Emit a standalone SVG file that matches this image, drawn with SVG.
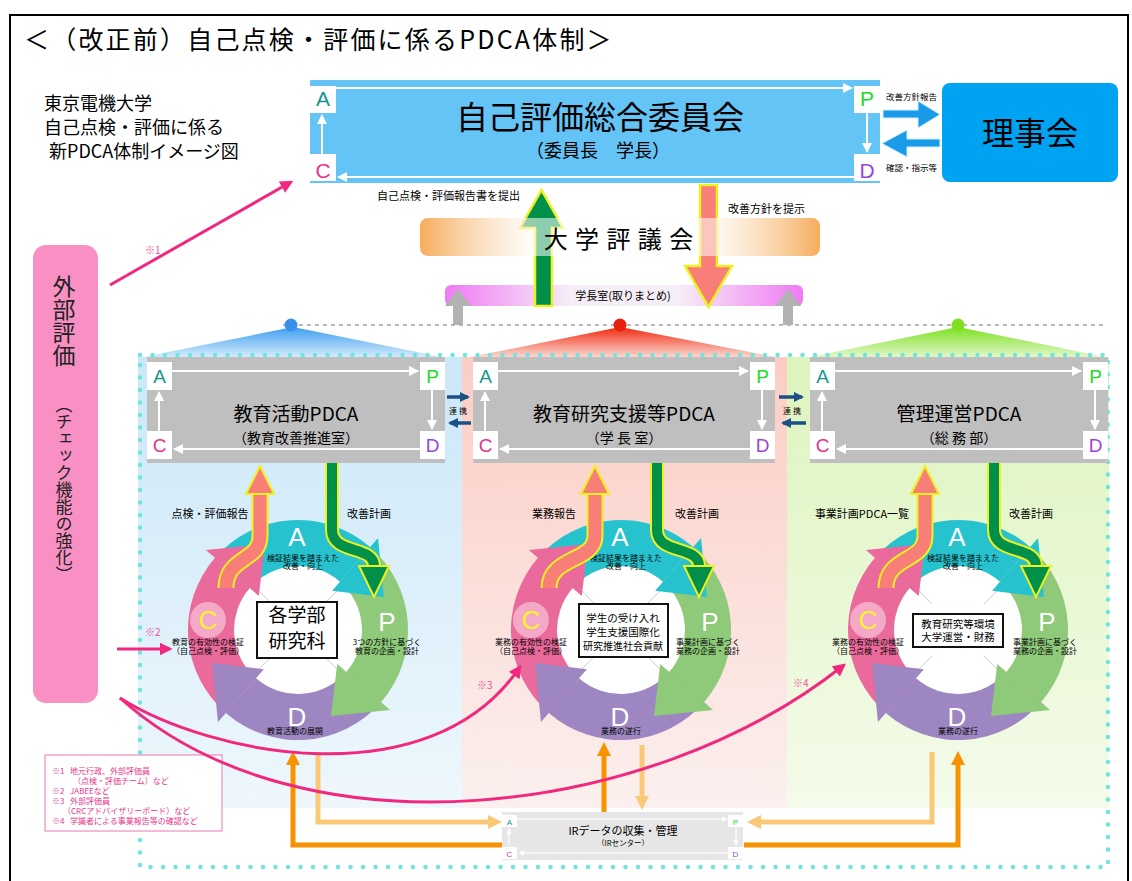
<svg xmlns="http://www.w3.org/2000/svg" width="1132" height="881" viewBox="0 0 1132 881">
<style>
text{font-family:"Noto Sans CJK JP","Noto Sans",sans-serif}
.lt{font-family:"Liberation Sans",Arial,sans-serif}
.c{text-anchor:middle}
.wa{stroke:#fff;stroke-width:2;fill:none;marker-end:url(#mW)}
.wa1{stroke:#fff;stroke-width:1.2;fill:none;marker-end:url(#mWs)}
.box{fill:#bfbfbf}
.cw{fill:#fff}
.LA{fill:#12968e}.LP{fill:#22dd22}.LC{fill:#e8308a}.LD{fill:#9a44e0}
.pk{fill:none;stroke:#f0297f;stroke-width:3;marker-end:url(#mPk)}
.pkt{fill:#f0509a;font-size:10px}
.nv{stroke:#1b4f86;stroke-width:3.5;fill:none;marker-end:url(#mNv)}
.ybo{fill:none;stroke:#eef020}
.od{fill:none;stroke:#f79200;stroke-width:5}
.ol{fill:none;stroke:#fac978;stroke-width:5}
.lg{fill:#e8388a;font-size:8px}
</style>
<defs>
<marker id="mW" markerUnits="userSpaceOnUse" markerWidth="10" markerHeight="10" viewBox="0 0 10 10" refX="9" refY="5" orient="auto"><path d="M0,0L10,5L0,10z" fill="#fff"/></marker>
<marker id="mWs" markerUnits="userSpaceOnUse" markerWidth="6" markerHeight="6" viewBox="0 0 10 10" refX="9" refY="5" orient="auto"><path d="M0,0L10,5L0,10z" fill="#fff"/></marker>
<marker id="mPk" markerUnits="userSpaceOnUse" markerWidth="13" markerHeight="13" viewBox="0 0 10 10" refX="8" refY="5" orient="auto"><path d="M0,0L10,5L0,10z" fill="#f0297f"/></marker>
<marker id="mNv" markerUnits="userSpaceOnUse" markerWidth="10" markerHeight="10" viewBox="0 0 10 10" refX="8" refY="5" orient="auto"><path d="M0,0L10,5L0,10z" fill="#1b4f86"/></marker>
<linearGradient id="gB" x1="0" y1="0" x2="0" y2="1"><stop offset="0" stop-color="#cbe7f8"/><stop offset="1" stop-color="#eef7fc"/></linearGradient>
<linearGradient id="gP" x1="0" y1="0" x2="0" y2="1"><stop offset="0" stop-color="#fbcdc4"/><stop offset="1" stop-color="#fbf0ee"/></linearGradient>
<linearGradient id="gG" x1="0" y1="0" x2="0" y2="1"><stop offset="0" stop-color="#ddf4bd"/><stop offset="1" stop-color="#f4fbea"/></linearGradient>
<linearGradient id="fB" x1="0" y1="0" x2="0" y2="1"><stop offset="0" stop-color="#3c9ef0"/><stop offset="1" stop-color="#d5ebfb"/></linearGradient>
<linearGradient id="fR" x1="0" y1="0" x2="0" y2="1"><stop offset="0" stop-color="#f02a10"/><stop offset="1" stop-color="#fbd7d0"/></linearGradient>
<linearGradient id="fG" x1="0" y1="0" x2="0" y2="1"><stop offset="0" stop-color="#7ce020"/><stop offset="1" stop-color="#e3f7cb"/></linearGradient>
<linearGradient id="barO" x1="0" y1="0" x2="1" y2="0"><stop offset="0" stop-color="#f6ad5c"/><stop offset="0.3" stop-color="#fff" stop-opacity="0.55"/><stop offset="0.7" stop-color="#fff" stop-opacity="0.55"/><stop offset="1" stop-color="#f6ad5c"/></linearGradient>
<linearGradient id="barM" x1="0" y1="0" x2="1" y2="0"><stop offset="0" stop-color="#f07af4"/><stop offset="0.35" stop-color="#f6eef6"/><stop offset="0.65" stop-color="#f6eef6"/><stop offset="1" stop-color="#f07af4"/></linearGradient>
<path id="band" d="M-83.02,-72.17A110,110 0 0 1 72.17,-83.02L41.99,-48.3A64,64 0 0 0 -48.3,-41.99Z"/>
<path id="head" d="M80.04,-92.07L85.89,-32.97L34.12,-39.24Z"/>
<g id="ring">
<circle r="64" fill="#fff"/>
<path d="M26,-26L45,-45M26,26L45,45M-26,26L-45,45M-26,-26L-45,-45" stroke="#d0d0d0" stroke-width="1"/>
<use href="#band" fill="#26c3cf"/>
<use href="#band" fill="#8fc97a" transform="rotate(90)"/>
<use href="#band" fill="#9d86c1" transform="rotate(180)"/>
<use href="#band" fill="#ea6a9b" transform="rotate(270)"/>
<use href="#head" fill="#26c3cf"/>
<use href="#head" fill="#8fc97a" transform="rotate(90)"/>
<use href="#head" fill="#9d86c1" transform="rotate(180)"/>
<use href="#head" fill="#ea6a9b" transform="rotate(270)"/>
<circle cx="-90" cy="-10" r="18" fill="#f4a9c9"/>
<text class="lt c" x="-1" y="-84" font-size="26" fill="#fff">A</text>
<text class="lt c" x="89" y="1" font-size="26" fill="#fff">P</text>
<text class="lt c" x="-1" y="96" font-size="26" fill="#fff">D</text>
<text class="lt c" x="-90" y="-1" font-size="26" fill="#fff22a">C</text>
<text class="c" x="5" y="-69" font-size="8">検証結果を踏まえた</text>
<text class="c" x="5" y="-61" font-size="8">改善・向上</text>
</g>
</defs>

<path d="M10,881V15H1128V881" fill="none" stroke="#000" stroke-width="2"/>
<text x="24" y="49" font-size="25" letter-spacing="2.2">＜（改正前）自己点検・評価に係るPDCA体制＞</text>
<g id="header">
<text x="44" y="110" font-size="18">東京電機大学</text>
<text x="44" y="134" font-size="18">自己点検・評価に係る</text>
<text x="49" y="158" font-size="18">新PDCA体制イメージ図</text>
</g>

<g id="background">
<rect x="138" y="357" width="324" height="451" fill="url(#gB)"/>
<rect x="462" y="357" width="325" height="451" fill="url(#gP)"/>
<rect x="787" y="357" width="322" height="451" fill="url(#gG)"/>
<polygon points="293,327 143,357 442,357" fill="url(#fB)"/>
<polygon points="620,327 470,357 775,357" fill="url(#fR)"/>
<polygon points="958,327 810,357 1105,357" fill="url(#fG)"/>
<line x1="283" y1="325" x2="1105" y2="325" stroke="#b8b8b8" stroke-width="2" stroke-dasharray="4 4"/>
<circle cx="291" cy="325" r="6.5" fill="#3a90e8"/>
<circle cx="620" cy="325" r="6.5" fill="#e82010"/>
<circle cx="958" cy="325" r="6.5" fill="#80e020"/>
<rect x="140" y="355" width="968" height="512" fill="none" stroke="#6fe6dc" stroke-width="4.5" stroke-dasharray="0 12.5" stroke-linecap="round"/>
</g>

<g id="committee">
<rect x="310" y="80" width="570" height="103" fill="#64c4f6"/>
<rect class="cw" x="310" y="86" width="26" height="27"/>
<rect class="cw" x="310" y="154" width="26" height="27"/>
<rect class="cw" x="854" y="86" width="26" height="27"/>
<rect class="cw" x="854" y="154" width="26" height="27"/>
<path class="wa" d="M336,88H852"/>
<path class="wa" d="M867,113V152"/>
<path class="wa" d="M854,177H338"/>
<path class="wa" d="M322,154V115"/>
<text class="lt c LA" x="323" y="106" font-size="21">A</text>
<text class="lt c LP" x="867" y="106" font-size="21">P</text>
<text class="lt c LC" x="323" y="178" font-size="21">C</text>
<text class="lt c LD" x="867" y="178" font-size="21">D</text>
<text class="c" x="600" y="129" font-size="32">自己評価総合委員会</text>
<text class="c" x="598" y="157" font-size="18">（委員長　学長）</text>
</g>

<g id="board">
<rect x="942" y="83" width="176" height="99" rx="8" fill="#00a2f2"/>
<text class="c" x="1030" y="145" font-size="32">理事会</text>
</g>

<g id="gakucho">
<rect x="445" y="285" width="358" height="21" rx="6" fill="url(#barM)"/>
<text class="c" x="623" y="300" font-size="11">学長室(取りまとめ)</text>
</g>

<g id="pdca-edu">
<rect class="box" x="147" y="357" width="298" height="106"/>
<rect class="cw" x="147" y="362" width="25" height="28"/>
<rect class="cw" x="420" y="362" width="25" height="28"/>
<rect class="cw" x="147" y="431" width="25" height="28"/>
<rect class="cw" x="420" y="431" width="25" height="28"/>
<path class="wa" d="M172,371H418"/><path class="wa" d="M432,390V429"/><path class="wa" d="M420,449H174"/><path class="wa" d="M159,431V392"/>
<text class="lt c LA" x="159.5" y="383" font-size="19">A</text>
<text class="lt c LP" x="432.5" y="383" font-size="19">P</text>
<text class="lt c LC" x="159.5" y="452" font-size="19">C</text>
<text class="lt c LD" x="432.5" y="452" font-size="19">D</text>
<text class="c" x="296" y="421" font-size="19">教育活動PDCA</text>
<text class="c" x="296" y="443" font-size="14">（教育改善推進室）</text>
</g>
<g id="pdca-support">
<rect class="box" x="473" y="357" width="302" height="106"/>
<rect class="cw" x="473" y="362" width="25" height="28"/>
<rect class="cw" x="750" y="362" width="25" height="28"/>
<rect class="cw" x="473" y="431" width="25" height="28"/>
<rect class="cw" x="750" y="431" width="25" height="28"/>
<path class="wa" d="M498,371H748"/><path class="wa" d="M762,390V429"/><path class="wa" d="M750,449H500"/><path class="wa" d="M485,431V392"/>
<text class="lt c LA" x="485.5" y="383" font-size="19">A</text>
<text class="lt c LP" x="762.5" y="383" font-size="19">P</text>
<text class="lt c LC" x="485.5" y="452" font-size="19">C</text>
<text class="lt c LD" x="762.5" y="452" font-size="19">D</text>
<text class="c" x="624" y="421" font-size="19">教育研究支援等PDCA</text>
<text class="c" x="624" y="443" font-size="14">（学 長 室）</text>
</g>
<g id="pdca-admin">
<rect class="box" x="810" y="357" width="298" height="106"/>
<rect class="cw" x="810" y="362" width="25" height="28"/>
<rect class="cw" x="1083" y="362" width="25" height="28"/>
<rect class="cw" x="810" y="431" width="25" height="28"/>
<rect class="cw" x="1083" y="431" width="25" height="28"/>
<path class="wa" d="M835,371H1081"/><path class="wa" d="M1095,390V429"/><path class="wa" d="M1083,449H837"/><path class="wa" d="M822,431V392"/>
<text class="lt c LA" x="822.5" y="383" font-size="19">A</text>
<text class="lt c LP" x="1095.5" y="383" font-size="19">P</text>
<text class="lt c LC" x="822.5" y="452" font-size="19">C</text>
<text class="lt c LD" x="1095.5" y="452" font-size="19">D</text>
<text class="c" x="959" y="421" font-size="19">管理運営PDCA</text>
<text class="c" x="959" y="443" font-size="14">（総 務 部）</text>
</g>

<g id="cycle-edu">
<use href="#ring" x="298" y="630"/>
<rect x="257" y="602" width="80" height="56" fill="#fff" stroke="#111" stroke-width="2"/>
<text class="c" x="297" y="622" font-size="19">各学部</text>
<text class="c" x="297" y="648" font-size="19">研究科</text>
<text class="c" x="387" y="645" font-size="8">3つの方針に基づく</text>
<text class="c" x="387" y="654" font-size="8">教育の企画・設計</text>
<text class="c" x="208" y="645" font-size="8">教育の有効性の検証</text>
<text class="c" x="208" y="654" font-size="8">（自己点検・評価）</text>
<text class="c" x="295" y="734" font-size="8">教育活動の展開</text>
<text class="c" x="210" y="518" font-size="11">点検・評価報告</text>
<text class="c" x="369" y="518" font-size="11">改善計画</text>
</g>
<g id="cycle-support">
<use href="#ring" x="621" y="630"/>
<rect x="579" y="604" width="89" height="53" fill="#fff" stroke="#111" stroke-width="2"/>
<text class="c" x="623" y="622" font-size="10.5">学生の受け入れ</text>
<text class="c" x="623" y="636" font-size="10.5">学生支援国際化</text>
<text class="c" x="623" y="650" font-size="10">研究推進社会貢献</text>
<text class="c" x="708" y="645" font-size="8">事業計画に基づく</text>
<text class="c" x="708" y="654" font-size="8">業務の企画・設計</text>
<text class="c" x="531" y="645" font-size="8">業務の有効性の検証</text>
<text class="c" x="531" y="654" font-size="8">（自己点検・評価）</text>
<text class="c" x="621" y="734" font-size="8">業務の遂行</text>
<text class="c" x="554" y="518" font-size="11">業務報告</text>
<text class="c" x="697" y="518" font-size="11">改善計画</text>
</g>
<g id="cycle-admin">
<use href="#ring" x="958" y="630"/>
<rect x="913" y="614" width="90" height="33" fill="#fff" stroke="#111" stroke-width="2"/>
<text class="c" x="958" y="628" font-size="10.5">教育研究等環境</text>
<text class="c" x="958" y="641" font-size="10.5">大学運営・財務</text>
<text class="c" x="1045" y="645" font-size="8">事業計画に基づく</text>
<text class="c" x="1045" y="654" font-size="8">業務の企画・設計</text>
<text class="c" x="868" y="645" font-size="8">業務の有効性の検証</text>
<text class="c" x="868" y="654" font-size="8">（自己点検・評価）</text>
<text class="c" x="958" y="734" font-size="8">業務の遂行</text>
<text class="c" x="862" y="518" font-size="11">事業計画PDCA一覧</text>
<text class="c" x="1031" y="518" font-size="11">改善計画</text>
</g>

<g id="ir">
<rect x="502" y="812" width="241" height="48" fill="#e6e6e6"/>
<rect class="cw" x="502" y="815" width="15" height="12"/>
<rect class="cw" x="728" y="815" width="15" height="12"/>
<rect class="cw" x="502" y="847" width="15" height="12"/>
<rect class="cw" x="728" y="847" width="15" height="12"/>
<path class="wa1" d="M517,819H727"/><path class="wa1" d="M736,828V845"/><path class="wa1" d="M728,853H519"/><path class="wa1" d="M509,846V829"/>
<text class="lt c LA" x="509.5" y="825" font-size="8">A</text>
<text class="lt c LP" x="735.5" y="825" font-size="8">P</text>
<text class="lt c LC" x="509.5" y="857" font-size="8">C</text>
<text class="lt c LD" x="735.5" y="857" font-size="8">D</text>
<text class="c" x="623" y="835" font-size="11">IRデータの収集・管理</text>
<text class="c" x="623" y="846" font-size="7.5">（IRセンター）</text>
</g>

<g id="external">
<rect x="33" y="245" width="65" height="458" rx="13" fill="#f890c4"/>
<text x="64" y="275" font-size="23" fill="#222" style="writing-mode:vertical-rl">外部評価</text>
<text x="64" y="396" font-size="17" fill="#222" style="writing-mode:vertical-rl">（チェック機能の強化）</text>
</g>

<g id="legend">
<rect x="45" y="755" width="177" height="76" fill="#fff" stroke="#e878b0" stroke-width="1"/>
<text class="lg" x="52" y="774">※1<tspan x="70">地元行政、外部評価員</tspan></text>
<text class="lg" x="73" y="784">（点検・評価チーム）など</text>
<text class="lg" x="52" y="794">※2<tspan x="70">JABEEなど</tspan></text>
<text class="lg" x="52" y="804">※3<tspan x="70">外部評価員</tspan></text>
<text class="lg" x="63" y="814">（CRCアドバイザリーボード）など</text>
<text class="lg" x="52" y="824">※4<tspan x="70">学識者による事業報告等の確認など</tspan></text>
</g>

<g id="connectors">
<polygon points="883,110 918,110 918,101 940,114.5 918,128 918,118 883,118" fill="#1a9be8" stroke="#cdeeff" stroke-width="1"/>
<polygon points="940,139 907,139 907,130 882,143.5 907,157 907,147 940,147" fill="#1a9be8" stroke="#cdeeff" stroke-width="1"/>
<polygon points="453,325 453,306 445,306 458,289 471,306 463,306 463,325" fill="#b2b2b2"/>
<polygon points="783,325 783,306 775,306 788,289 801,306 793,306 793,325" fill="#b2b2b2"/>
<polygon points="535,306 535,228 520,228 541.5,190 563,228 552,228 552,306" fill="#00904a" stroke="#eef020" stroke-width="2.5"/>
<polygon points="700,185 717,185 717,266 732,266 708.5,307 685,266 700,266" fill="#f87e78" stroke="#eef020" stroke-width="2.5"/>
<path class="nv" d="M447,397H468"/><path class="nv" d="M471,423H450"/>
<path class="nv" d="M779,397H802"/><path class="nv" d="M806,423H783"/>
<path class="ybo" stroke-width="17" d="M226,588C226,556 260,562 260,536V493"/>
<path fill="none" stroke="#f87e78" stroke-width="13" d="M226,588C226,556 260,562 260,536V493"/>
<polygon points="246,494 260,466 274,494" fill="#f87e78" stroke="#eef020" stroke-width="2"/>
<path class="ybo" stroke-width="14" d="M332,463V530C332,555 374,545 374,566"/>
<path fill="none" stroke="#00904a" stroke-width="10" d="M332,463V530C332,555 374,545 374,566"/>
<polygon points="359,566 389,566 374,597" fill="#00904a" stroke="#eef020" stroke-width="2"/>
<path class="ybo" stroke-width="17" d="M549,588C549,556 595,562 595,536V493"/>
<path fill="none" stroke="#f87e78" stroke-width="13" d="M549,588C549,556 595,562 595,536V493"/>
<polygon points="581,494 595,466 609,494" fill="#f87e78" stroke="#eef020" stroke-width="2"/>
<path class="ybo" stroke-width="14" d="M657,463V530C657,555 699,545 699,566"/>
<path fill="none" stroke="#00904a" stroke-width="10" d="M657,463V530C657,555 699,545 699,566"/>
<polygon points="684,566 714,566 699,597" fill="#00904a" stroke="#eef020" stroke-width="2"/>
<path class="ybo" stroke-width="17" d="M886,588C886,556 925,562 925,536V493"/>
<path fill="none" stroke="#f87e78" stroke-width="13" d="M886,588C886,556 925,562 925,536V493"/>
<polygon points="911,494 925,466 939,494" fill="#f87e78" stroke="#eef020" stroke-width="2"/>
<path class="ybo" stroke-width="14" d="M994,463V530C994,555 1036,545 1036,566"/>
<path fill="none" stroke="#00904a" stroke-width="10" d="M994,463V530C994,555 1036,545 1036,566"/>
<polygon points="1021,566 1051,566 1036,597" fill="#00904a" stroke="#eef020" stroke-width="2"/>
<path class="od" d="M502,845H293V764"/><polygon points="286,765 300,765 293,751" fill="#f79200"/>
<path class="ol" d="M318,752V822H489"/><polygon points="488,815 488,829 502,822" fill="#fac978"/>
<path class="od" d="M604,812V755"/><polygon points="597,756 611,756 604,742" fill="#f79200"/>
<path class="ol" d="M642,745V797"/><polygon points="635,796 649,796 642,810" fill="#fac978"/>
<path class="ol" d="M932,752V822H760"/><polygon points="761,815 761,829 747,822" fill="#fac978"/>
<path class="od" d="M744,845H958V764"/><polygon points="951,765 965,765 958,751" fill="#f79200"/>
<path class="pk" d="M110,285L291,182"/>
<path class="pk" d="M117,649H170"/>
<path class="pk" d="M120,698C210,755 430,800 520,667"/>
<path class="pk" d="M120,698C300,860 650,820 844,665"/>
<text class="pkt" x="145" y="254">※1</text>
<text class="pkt" x="145" y="636">※2</text>
<text class="pkt" x="477" y="689">※3</text>
<text class="pkt" x="793" y="687">※4</text>
</g>

<g id="council">
<rect x="420" y="218" width="400" height="38" rx="8" fill="url(#barO)"/>
<text class="c" x="619" y="248" font-size="24" letter-spacing="1">大 学 評 議 会</text>
</g>

<g id="labels">
<text x="377" y="200" font-size="11">自己点検・評価報告書を提出</text>
<text x="728" y="213" font-size="11">改善方針を提示</text>
<text x="886" y="100" font-size="8.5">改善方針報告</text>
<text x="886" y="171" font-size="8.5">確認・指示等</text>
<text class="c" x="458" y="414" font-size="8">連 携</text>
<text class="c" x="792" y="414" font-size="8">連 携</text>
</g>
</svg>
